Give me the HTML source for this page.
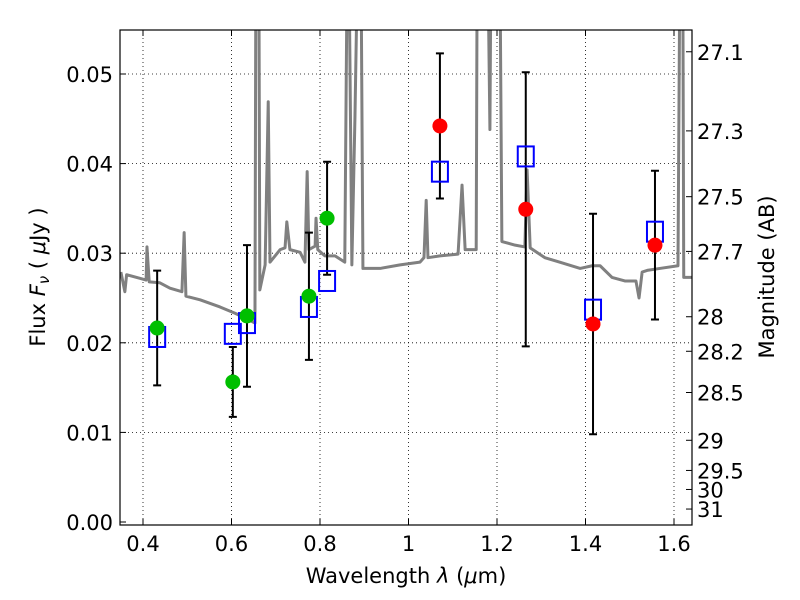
<!DOCTYPE html>
<html><head><meta charset="utf-8"><style>
body{margin:0;background:#fff}
svg{display:block;font-family:"DejaVu Sans","Liberation Sans",sans-serif}
</style></head><body>
<svg id="chart" width="800" height="600">
<defs><clipPath id="clip"><rect x="120" y="30" width="572" height="495"/></clipPath></defs>
<rect x="0" y="0" width="800" height="600" fill="#fff"/>
<g id="grid"></g><g id="spec" clip-path="url(#clip)"></g><g id="marks"></g>
<rect x="120" y="30" width="572" height="495" fill="none" stroke="#000" stroke-width="1.2"/>
<g id="axes"></g>
<text x="406" y="583" font-size="21" text-anchor="middle">Wavelength  <tspan font-style="italic">λ</tspan> (<tspan font-style="italic">μ</tspan>m)</text>
<text transform="translate(45,277) rotate(-90)" font-size="21" text-anchor="middle">Flux  <tspan font-style="italic">F</tspan><tspan font-style="italic" font-size="15" dy="4">ν</tspan><tspan dy="-4">  (  </tspan><tspan font-style="italic">μ</tspan>Jy )</text>
<text transform="translate(774,277) rotate(-90)" font-size="21" text-anchor="middle">Magnitude (AB)</text>
</svg>
<script>
const specWl=[0.350,0.359,0.363,0.393,0.407,0.409,0.414,0.438,0.461,0.488,0.493,0.497,0.529,0.574,0.608,0.642,0.653,0.655,0.662,0.664,0.676,0.683,0.687,0.710,0.721,0.725,0.732,0.755,0.766,0.771,0.775,0.789,0.791,0.795,0.811,0.834,0.856,0.861,0.866,0.872,0.879,0.884,0.893,0.897,0.936,0.981,1.026,1.035,1.040,1.044,1.071,1.112,1.121,1.128,1.153,1.155,1.180,1.184,1.186,1.207,1.211,1.241,1.263,1.268,1.275,1.308,1.342,1.388,1.415,1.433,1.460,1.489,1.514,1.521,1.528,1.541,1.568,1.609,1.613,1.620,1.622,1.640];
const specFlux=[0.0279,0.0257,0.0276,0.0272,0.0270,0.0307,0.0268,0.0267,0.0261,0.0257,0.0323,0.0252,0.0248,0.0240,0.0233,0.0225,0.0222,0.06,0.06,0.0259,0.0287,0.0469,0.0290,0.0304,0.0306,0.0335,0.0304,0.0301,0.0290,0.0391,0.0304,0.0308,0.0339,0.0304,0.0297,0.0297,0.0290,0.06,0.06,0.0287,0.0452,0.06,0.06,0.0283,0.0283,0.0287,0.0290,0.0295,0.0359,0.0295,0.0297,0.0299,0.0376,0.0304,0.0304,0.06,0.06,0.0438,0.06,0.06,0.0313,0.0309,0.0307,0.0393,0.0306,0.0295,0.0290,0.0283,0.0286,0.0286,0.0273,0.0269,0.0269,0.0250,0.0279,0.0281,0.0283,0.0286,0.06,0.06,0.0273,0.0273];
const greenWl=[0.432,0.603,0.635,0.775,0.816];
const greenFlux=[0.02165,0.01563,0.0230,0.0252,0.0339];
const greenErr=[0.0064,0.0039,0.0079,0.0071,0.0063];
const redWl=[1.071,1.265,1.417,1.557];
const redFlux=[0.0442,0.0349,0.0221,0.0309];
const redErr=[0.0081,0.0153,0.0123,0.0083];
const modelWl=[0.432,0.603,0.635,0.775,0.816,1.071,1.265,1.417,1.557];
const modelFlux=[0.02065,0.0210,0.0222,0.0240,0.0269,0.0391,0.0408,0.0237,0.0324];
const xTicks=[0.4,0.6,0.8,1.0,1.2,1.4,1.6];
const xTickLabels=["0.4","0.6","0.8","1","1.2","1.4","1.6"];
const yTicks=[0,0.01,0.02,0.03,0.04,0.05];
const yTickLabels=["0.00","0.01","0.02","0.03","0.04","0.05"];
const magTicks=[27.1,27.3,27.5,27.7,28,28.2,28.5,29,29.5,30,31];
const magLabels=["27.1","27.3","27.5","27.7","28","28.2","28.5","29","29.5","30","31"];

const NS="http://www.w3.org/2000/svg";
const X=v=>143+(v-0.4)*442.5;
const Y=v=>522-v*8960;
function mk(p,t,a){const e=document.createElementNS(NS,t);for(const k in a)e.setAttribute(k,a[k]);document.getElementById(p).appendChild(e);return e;}
xTicks.forEach((t,i)=>{
 const l=mk('grid','line',{x1:X(t),x2:X(t),y1:30,y2:525,stroke:'#000','stroke-width':0.8,'stroke-dasharray':'1,3'});
 
 
 mk('axes','line',{x1:X(t),x2:X(t),y1:525,y2:519,stroke:'#000'});
 mk('axes','line',{x1:X(t),x2:X(t),y1:30,y2:36,stroke:'#000'});
 const tx=mk('axes','text',{x:X(t),y:551,'font-size':21,'text-anchor':'middle'});tx.textContent=xTickLabels[i];
 
 
});
yTicks.forEach((t,i)=>{
 if(t>0){const l=mk('grid','line',{x1:120,x2:692,y1:Y(t),y2:Y(t),stroke:'#000','stroke-width':0.8,'stroke-dasharray':'1,3'});
 
 }
 mk('axes','line',{x1:120,x2:126,y1:Y(t),y2:Y(t),stroke:'#000'});
 const tx=mk('axes','text',{x:113,y:Y(t)+8,'font-size':21,'text-anchor':'end'});tx.textContent=yTickLabels[i];
 
 
});
magTicks.forEach((m,i)=>{
 const y=Y(Math.pow(10,(23.9-m)/2.5));
 mk('axes','line',{x1:686,x2:692,y1:y,y2:y,stroke:'#000'});
 const tx=mk('axes','text',{x:697,y:y+8,'font-size':21});tx.textContent=magLabels[i];
 
 
});
const sp=mk('spec','polyline',{points:specWl.map((w,i)=>X(w)+','+Y(specFlux[i])).join(' '),fill:'none',stroke:'#808080','stroke-width':3,'stroke-linejoin':'round'});


function errbar(w,f,e){
 const x=X(w),y1=Y(f+e),y2=Y(f-e);
 const g=mk('marks','path',{d:`M${x},${y1}V${y2}M${x-4},${y1}H${x+4}M${x-4},${y2}H${x+4}`,stroke:'#000','stroke-width':2,fill:'none'});
 
 
}
greenWl.forEach((w,i)=>errbar(w,greenFlux[i],greenErr[i]));
redWl.forEach((w,i)=>errbar(w,redFlux[i],redErr[i]));
modelWl.forEach((w,i)=>{
 const r=mk('marks','rect',{x:X(w)-8,y:Y(modelFlux[i])-10,width:16,height:20,fill:'none',stroke:'#0000ff','stroke-width':2});
 
 
});
greenWl.forEach((w,i)=>{
 const c=mk('marks','circle',{cx:X(w),cy:Y(greenFlux[i]),r:7.5,fill:'#00bf00'});
 
 
});
redWl.forEach((w,i)=>{
 const c=mk('marks','circle',{cx:X(w),cy:Y(redFlux[i]),r:7.5,fill:'#ff0000'});
 
 
});
</script>
</body></html>
